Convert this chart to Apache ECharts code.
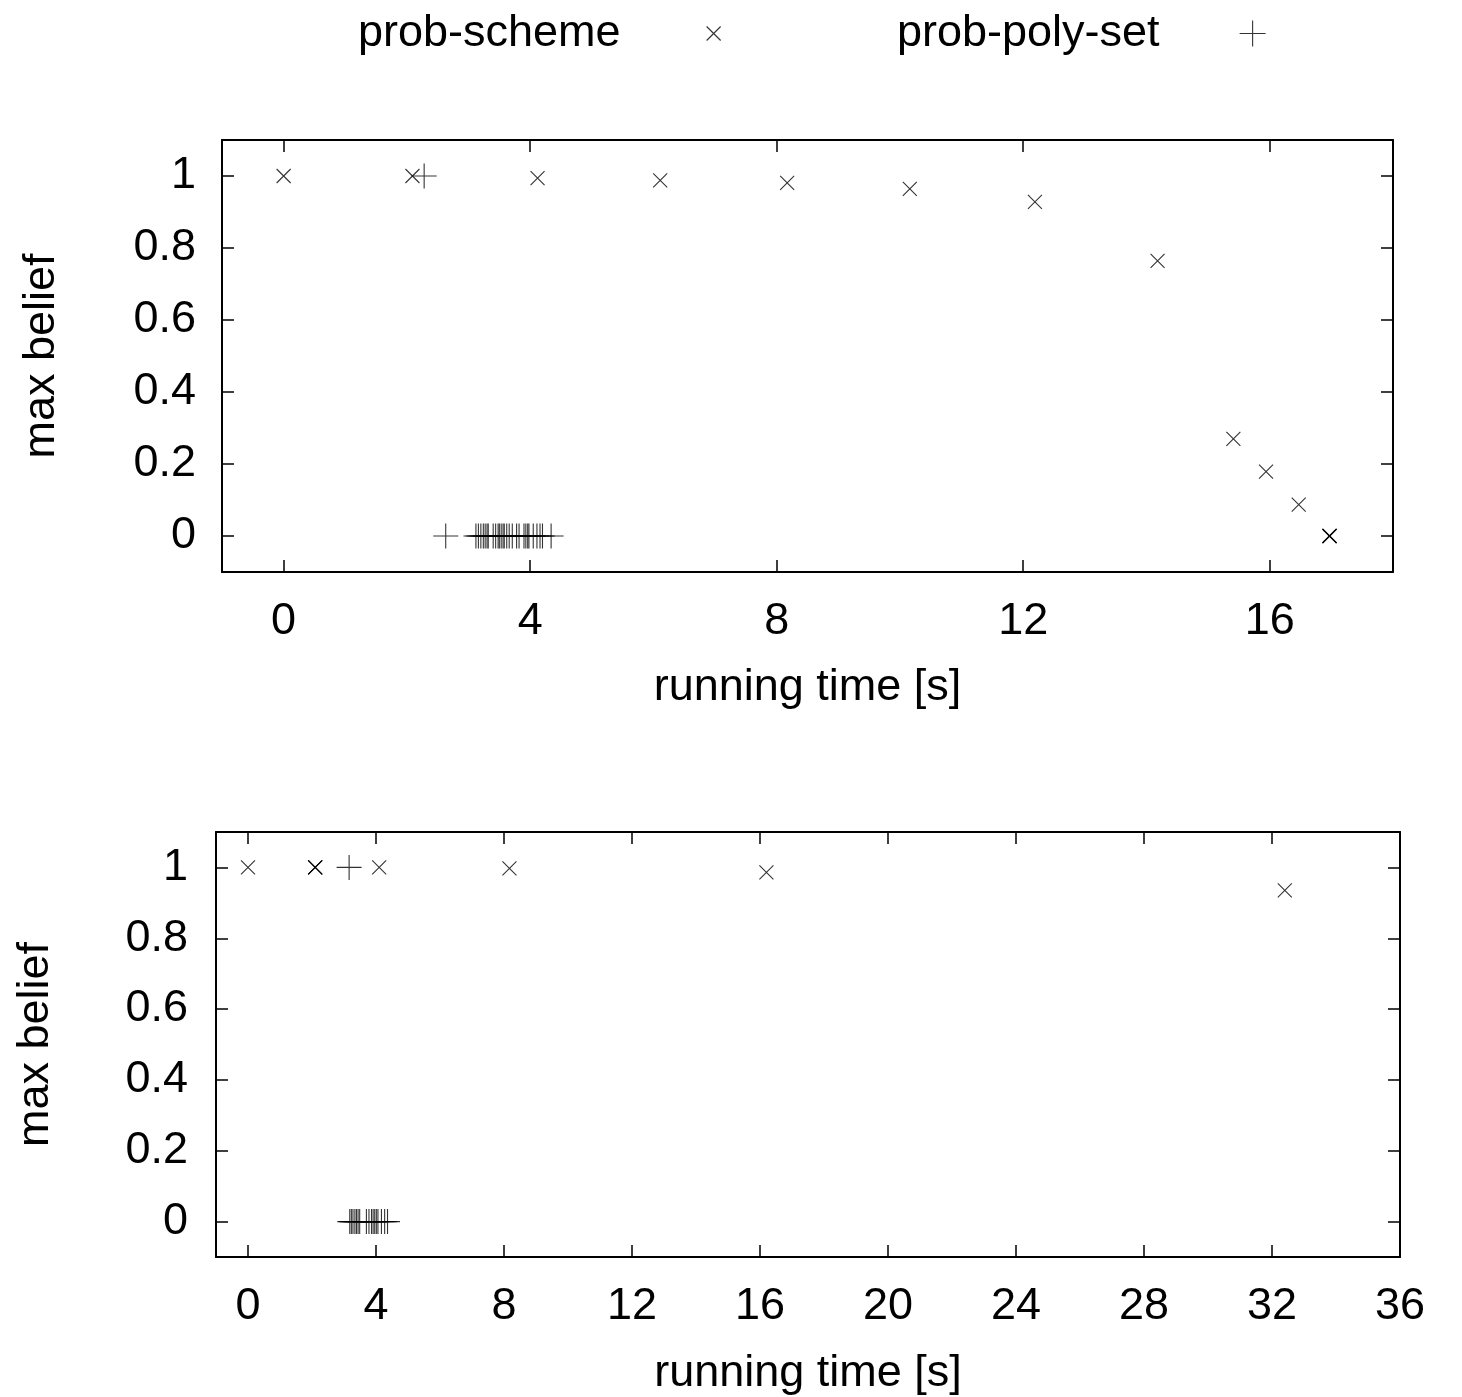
<!DOCTYPE html>
<html>
<head>
<meta charset="utf-8">
<script src="https://cdn.jsdelivr.net/npm/echarts@6/dist/echarts.min.js"></script>
<style>
  html, body { margin: 0; padding: 0; background: #fff; }
  #chart { width: 1462px; height: 1397px; }
</style>
</head>
<body>
<div id="chart"></div>
<script>
// Upper panel: running time [s] vs. max belief
const topSchemeX = [0, 2.09, 4.12, 6.11, 8.17, 10.16, 12.19, 14.18, 15.41, 15.94, 16.47, 16.97, 16.97, 16.97];
const topSchemeY = [1, 1, 0.994, 0.988, 0.981, 0.964, 0.928, 0.764, 0.27, 0.179, 0.087, 0, 0, 0];
const topPolyX = [2.28, 2.63, 3.12, 3.16, 3.20, 3.24, 3.27, 3.30, 3.32, 3.40, 3.44, 3.48, 3.50, 3.53, 3.56,
                  3.58, 3.62, 3.66, 3.71, 3.78, 3.82, 3.90, 3.93, 3.96, 3.98, 4.05, 4.11, 4.16, 4.20, 4.34];
const topPolyY = [1, 0, 0, 0, 0, 0, 0, 0, 0, 0, 0, 0, 0, 0, 0,
                  0, 0, 0, 0, 0, 0, 0, 0, 0, 0, 0, 0, 0, 0, 0];

// Lower panel
const botSchemeX = [0, 2.1, 2.1, 2.1, 4.1, 8.17, 16.2, 32.4];
const botSchemeY = [1, 1, 1, 1, 1, 0.997, 0.986, 0.935];
const botPolyX = [3.16, 3.18, 3.23, 3.28, 3.34, 3.39, 3.44, 3.49, 3.70, 3.78, 3.86, 3.91, 3.96,
                  4.01, 4.06, 4.17, 4.27, 4.36];
const botPolyY = [1, 0, 0, 0, 0, 0, 0, 0, 0, 0, 0, 0, 0, 0, 0, 0, 0, 0];

// Tick labels
const topXTicks = [0, 4, 8, 12, 16];
const botXTicks = [0, 4, 8, 12, 16, 20, 24, 28, 32, 36];
const yTicks = [0, 0.2, 0.4, 0.6, 0.8, 1];

const seriesNames = ['prob-scheme', 'prob-poly-set'];
const xLabel = 'running time [s]';
const yLabel = 'max belief';

const zip = (xs, ys) => xs.map((x, i) => [x, ys[i]]);

const FONT = 'Liberation Sans, Arial, Helvetica, sans-serif';
const FS = 45;
const CROSS = 'path://M0,0L10,10M10,0L0,10';
const PLUS = 'path://M0,5L10,5M5,0L5,10';

const markStyle = { color: 'rgba(0,0,0,0)', borderColor: '#000', borderWidth: 1.1 };

function xAxes(gridIndex, min, max, ticks, gap) {
  const tick = { inside: true, length: 12, customValues: ticks, lineStyle: { color: '#000', width: 1.5 } };
  return [
    {
      type: 'value', gridIndex, min, max, position: 'bottom',
      axisLine: { show: true, onZero: false, lineStyle: { color: '#000', width: 2 } },
      axisTick: tick,
      axisLabel: { customValues: ticks, margin: 27, color: '#000', fontSize: FS, fontFamily: FONT },
      splitLine: { show: false },
      name: xLabel, nameLocation: 'middle', nameGap: gap,
      nameTextStyle: { color: '#000', fontSize: FS, fontFamily: FONT }
    },
    {
      type: 'value', gridIndex, min, max, position: 'top',
      axisLine: { show: true, onZero: false, lineStyle: { color: '#000', width: 2 } },
      axisTick: tick,
      axisLabel: { show: false },
      splitLine: { show: false }
    }
  ];
}

function yAxes(gridIndex, margin) {
  const tick = { inside: true, length: 12, customValues: yTicks, lineStyle: { color: '#000', width: 1.5 } };
  return [
    {
      type: 'value', gridIndex, min: -0.1, max: 1.1, position: 'left',
      axisLine: { show: true, onZero: false, lineStyle: { color: '#000', width: 2 } },
      axisTick: tick,
      axisLabel: { customValues: yTicks, margin, color: '#000', fontSize: FS, fontFamily: FONT },
      splitLine: { show: false },
      name: yLabel, nameLocation: 'middle', nameGap: 158,
      nameTextStyle: { color: '#000', fontSize: FS, fontFamily: FONT }
    },
    {
      type: 'value', gridIndex, min: -0.1, max: 1.1, position: 'right',
      axisLine: { show: true, onZero: false, lineStyle: { color: '#000', width: 2 } },
      axisTick: tick,
      axisLabel: { show: false },
      splitLine: { show: false }
    }
  ];
}

function scatter(name, xi, yi, data, symbol, size) {
  return {
    type: 'scatter', name, xAxisIndex: xi, yAxisIndex: yi, data,
    symbol, symbolSize: size, itemStyle: markStyle,
    emphasis: { disabled: true }, animation: false, silent: true
  };
}

const legendText = { color: '#000', fontSize: FS, fontFamily: FONT };

const option = {
  backgroundColor: '#fff',
  animation: false,
  legend: [
    {
      data: [{ name: seriesNames[0], icon: 'path://M0,0M176,14M81,0L95,14M95,0L81,14' }],
      left: 358, top: 11, padding: 0, align: 'right', itemWidth: 176, itemHeight: 14,
      itemStyle: { color: 'rgba(0,0,0,0)', borderColor: '#000', borderWidth: 1.1 },
      textStyle: legendText, selectedMode: false
    },
    {
      data: [{ name: seriesNames[1], icon: 'path://M0,0M176,26M75,13L101,13M88,0L88,26' }],
      left: 897, top: 11, padding: 0, align: 'right', itemWidth: 176, itemHeight: 26,
      itemStyle: { color: 'rgba(0,0,0,0)', borderColor: '#000', borderWidth: 1.1 },
      textStyle: legendText, selectedMode: false
    }
  ],
  grid: [
    { left: 222, top: 140, width: 1171, height: 432, containLabel: false },
    { left: 216, top: 832, width: 1184, height: 425, containLabel: false }
  ],
  xAxis: [...xAxes(0, -1, 18, topXTicks, 93), ...xAxes(1, -1, 36, botXTicks, 94)],
  yAxis: [...yAxes(0, 26), ...yAxes(1, 28)],
  series: [
    scatter(seriesNames[0], 0, 0, zip(topSchemeX, topSchemeY), CROSS, 14),
    scatter(seriesNames[1], 0, 0, zip(topPolyX, topPolyY), PLUS, 25),
    scatter(seriesNames[0], 2, 2, zip(botSchemeX, botSchemeY), CROSS, 14),
    scatter(seriesNames[1], 2, 2, zip(botPolyX, botPolyY), PLUS, 25)
  ]
};

const chart = echarts.init(document.getElementById('chart'), null, { renderer: 'canvas' });
chart.setOption(option);
</script>
</body>
</html>
